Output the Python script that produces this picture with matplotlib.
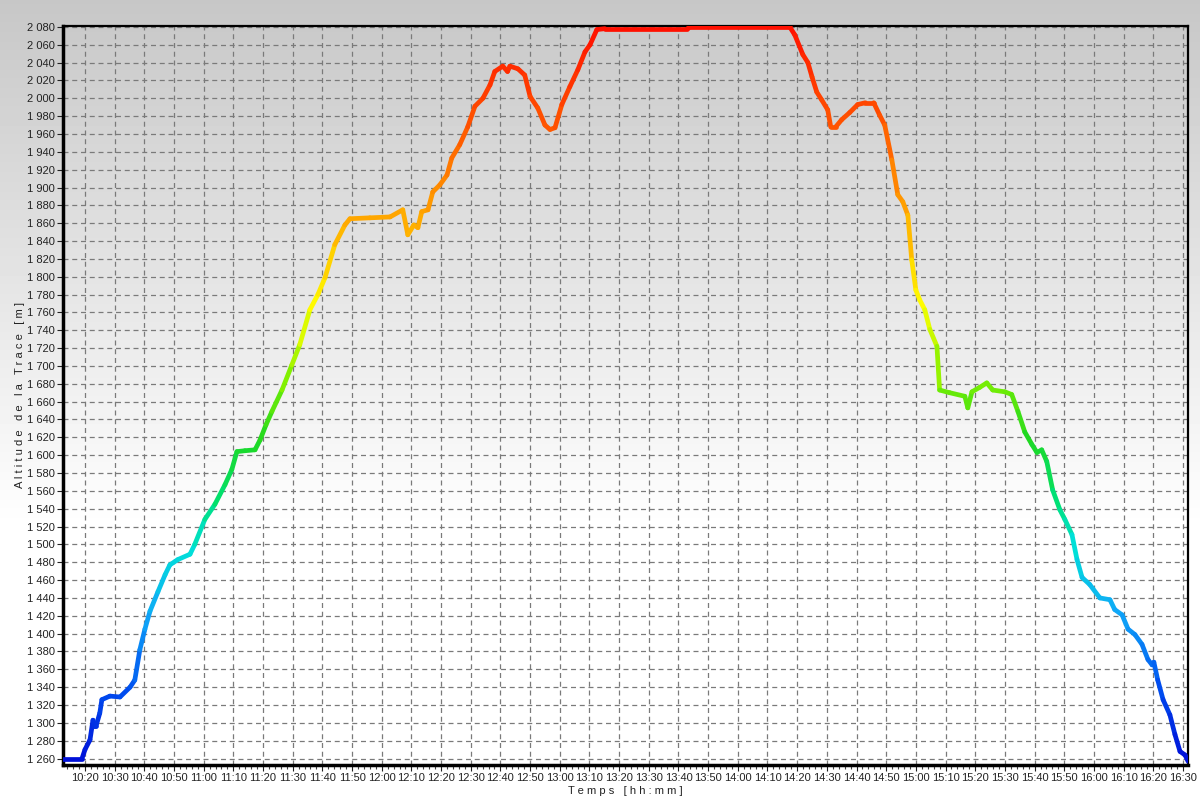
import numpy as np
import matplotlib
matplotlib.use("Agg")
import matplotlib.pyplot as plt
from matplotlib.collections import LineCollection
from matplotlib.colors import LinearSegmentedColormap
from matplotlib.ticker import MultipleLocator, FuncFormatter

# track: time (minutes after 10:00) and altitude (m)
t_min = [12.6, 19.0, 20.0, 21.7, 22.7, 23.2, 23.7, 25.0, 25.7, 28.4, 31.8, 35.2, 36.8, 38.5,
         40.2, 41.9, 44.6, 47.0, 48.6, 51.3, 55.4, 57.0, 60.4, 63.8, 67.2, 69.5, 71.2,
         73.9, 77.3, 79.0, 81.0, 83.0, 86.4, 89.7, 92.4, 95.8, 98.5, 100.9, 104.2, 107.6,
         109.3, 116.0, 122.8, 127.1, 128.8, 130.8, 132.2, 133.5, 135.6, 137.2, 139.6,
         142.0, 143.6, 146.3, 149.0, 151.4, 154.1, 156.5, 158.1, 160.8, 162.4, 163.2,
         165.9, 168.2, 170.0, 172.6, 175.0, 176.7, 178.4, 180.7, 183.4, 186.1, 188.5,
         190.2, 192.5, 195.2, 223.0, 224.0, 257.5, 259.2, 261.9, 263.6, 265.0, 266.6,
         268.3, 270.3, 271.3, 273.0, 275.0, 277.7, 280.4, 283.0, 285.8, 287.8, 289.5,
         291.9, 293.9, 295.6, 297.3, 298.6, 300.0, 301.3, 303.0, 304.7, 307.1, 308.0,
         311.4, 316.5, 317.5, 318.9, 321.5, 323.9, 325.9, 330.0, 332.3, 334.4, 336.7,
         339.1, 340.8, 342.4, 344.1, 346.1, 348.5, 350.2, 352.6, 354.3, 356.0, 358.6,
         362.0, 365.4, 367.0, 369.5, 371.5, 373.8, 376.2, 378.2, 379.6, 380.2, 381.5,
         383.3, 385.6, 387.3, 389.0, 390.7, 391.7]
alt_m = [1260, 1260, 1270, 1281, 1303, 1296, 1296, 1311, 1326, 1330, 1329, 1340, 1348, 1382,
         1405, 1425, 1447, 1466, 1477, 1483, 1489, 1500, 1528, 1545, 1567, 1584, 1604,
         1605, 1606, 1617, 1634, 1649, 1673, 1701, 1724, 1763, 1780, 1799, 1836, 1858,
         1865, 1866, 1867, 1875, 1847, 1858, 1855, 1873, 1875, 1895, 1903,
         1914, 1933, 1948, 1968, 1991, 2000, 2015, 2030, 2036, 2030, 2036,
         2033, 2026, 2002, 1989, 1970, 1965, 1967, 1993, 2013, 2032, 2052,
         2060, 2077, 2078, 2078, 2080, 2080, 2071, 2049, 2040, 2024, 2007,
         1998, 1987, 1968, 1968, 1976, 1984, 1993, 1995, 1995, 1981, 1970,
         1931, 1892, 1884, 1869, 1819, 1785, 1774, 1763, 1741, 1722, 1673,
         1670, 1666, 1653, 1671, 1676, 1681, 1673, 1671, 1668, 1649, 1626,
         1612, 1603, 1606, 1593, 1561, 1539, 1528, 1511, 1483, 1463, 1455,
         1440, 1438, 1427, 1421, 1405, 1399, 1388, 1371, 1365, 1368, 1348,
         1326, 1309, 1287, 1268, 1264, 1257]

cmap = LinearSegmentedColormap.from_list("alt", [
    (0.00, "#0010d8"), (0.10, "#0050f0"), (0.20, "#10a8f8"), (0.29, "#00e0d8"),
    (0.36, "#00e070"), (0.44, "#20d820"), (0.52, "#80f000"), (0.62, "#ffff00"),
    (0.74, "#ffa800"), (0.86, "#ff5a00"), (1.00, "#ff1000")])

fig = plt.figure(figsize=(12, 8), dpi=100)

# grey-to-white background gradient
bg = fig.add_axes([0, 0, 1, 1], zorder=-5)
g = np.clip(np.linspace(0.0, 1.0, 400) / 0.66, 0, 1)
shade = 0.78 + 0.22 * g
bg.imshow(shade.reshape(-1, 1), cmap="gray", vmin=0, vmax=1, aspect="auto",
          extent=[0, 1, 0, 1])
bg.axis("off")

ax = fig.add_axes([0.0525, 0.044, 0.9375, 0.9235])
ax.set_facecolor("none")

t = np.array(t_min)
a = np.array(alt_m)
pts = np.column_stack([t, a]).reshape(-1, 1, 2)
segs = np.concatenate([pts[:-1], pts[1:]], axis=1)
lc = LineCollection(segs, cmap=cmap, norm=plt.Normalize(1257, 2080),
                    linewidths=3.4, capstyle="round", joinstyle="round", zorder=3)
lc.set_array((a[:-1] + a[1:]) / 2)
ax.add_collection(lc)

ax.set_xlim(12.6, 391.7)
ax.set_ylim(1253, 2081)

ax.xaxis.set_major_locator(MultipleLocator(10))
ax.xaxis.set_minor_locator(MultipleLocator(2))
ax.yaxis.set_major_locator(MultipleLocator(20))
ax.xaxis.set_major_formatter(FuncFormatter(
    lambda v, p: "%d:%02d" % (10 + int(round(v)) // 60, int(round(v)) % 60)))
ax.yaxis.set_major_formatter(FuncFormatter(
    lambda v, p: "%d %03d" % (int(v) // 1000, int(v) % 1000)))

ax.grid(True, which="major", color="#7a7a7a", linestyle=(0, (4, 3)), linewidth=0.9)
ax.set_axisbelow(True)

ax.tick_params(axis="both", which="major", labelsize=8, colors="#222222",
               length=4, width=0.8, pad=2)
ax.tick_params(axis="x", which="minor", length=3, width=0.8, colors="#444444")
for lab in ax.get_xticklabels() + ax.get_yticklabels():
    lab.set_fontfamily("Liberation Sans")

for side in ["left", "bottom"]:
    ax.spines[side].set_linewidth(2.5)
for side in ["top", "right"]:
    ax.spines[side].set_linewidth(1.6)

ax.set_ylabel(" ".join("Altitude de la Trace [m]"), fontsize=8,
              family="Liberation Sans", color="#222222", labelpad=1)
ax.set_xlabel(" ".join("Temps [hh:mm]"), fontsize=8,
              family="Liberation Sans", color="#222222", labelpad=2)

fig.savefig("out.png", dpi=100)
